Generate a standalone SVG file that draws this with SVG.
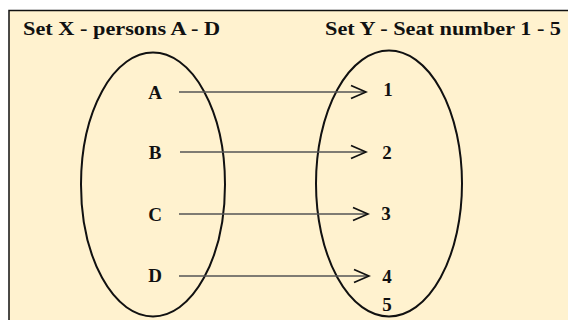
<svg xmlns="http://www.w3.org/2000/svg" width="568" height="320" viewBox="0 0 568 320">
<defs>
<style>
.t{font-family:"Liberation Serif","Times New Roman",serif;font-weight:bold;fill:#111;}
.h{font-size:19px;}
.l{font-size:19px;text-anchor:middle;}
.set{fill:none;stroke:#111;stroke-width:2;}
.c{stroke:#555;stroke-width:1.6;fill:none;}
</style>
<marker id="arr" markerWidth="18" markerHeight="16" refX="16" refY="8" orient="auto" markerUnits="userSpaceOnUse">
<path d="M1,1.5 L16,8 L1,14.5" fill="none" stroke="#111" stroke-width="1.8"/>
</marker>
</defs>
<rect x="0" y="0" width="568" height="320" fill="#fff"/>
<rect x="9" y="10.5" width="570" height="320" fill="#fff2cf" stroke="#111" stroke-width="1.5"/>
<text class="t h" x="23" y="35" textLength="197" lengthAdjust="spacingAndGlyphs">Set X - persons A - D</text>
<text class="t h" x="325" y="35" textLength="236" lengthAdjust="spacingAndGlyphs">Set Y - Seat number 1 - 5</text>
<g id="setX">
<ellipse class="set" cx="153" cy="184.5" rx="72" ry="132"/>
<g id="nodeA"><text class="t l" x="155" y="99">A</text></g>
<g id="nodeB"><text class="t l" x="155" y="159">B</text></g>
<g id="nodeC"><text class="t l" x="155" y="221">C</text></g>
<g id="nodeD"><text class="t l" x="155" y="282">D</text></g>
</g>
<g id="setY">
<ellipse class="set" cx="389" cy="183.5" rx="73" ry="133"/>
<g id="node1"><text class="t l" x="388" y="96">1</text></g>
<g id="node2"><text class="t l" x="387" y="159">2</text></g>
<g id="node3"><text class="t l" x="386" y="220">3</text></g>
<g id="node4"><text class="t l" x="387" y="283">4</text></g>
<g id="node5"><text class="t l" x="387" y="311">5</text></g>
</g>
<g id="connectors">
<line class="c" x1="179" y1="92" x2="366" y2="92" marker-end="url(#arr)"/>
<line class="c" x1="180" y1="152" x2="366" y2="152" marker-end="url(#arr)"/>
<line class="c" x1="179" y1="214" x2="368" y2="214" marker-end="url(#arr)"/>
<line class="c" x1="179" y1="276" x2="369" y2="276" marker-end="url(#arr)"/>
</g>
</svg>
